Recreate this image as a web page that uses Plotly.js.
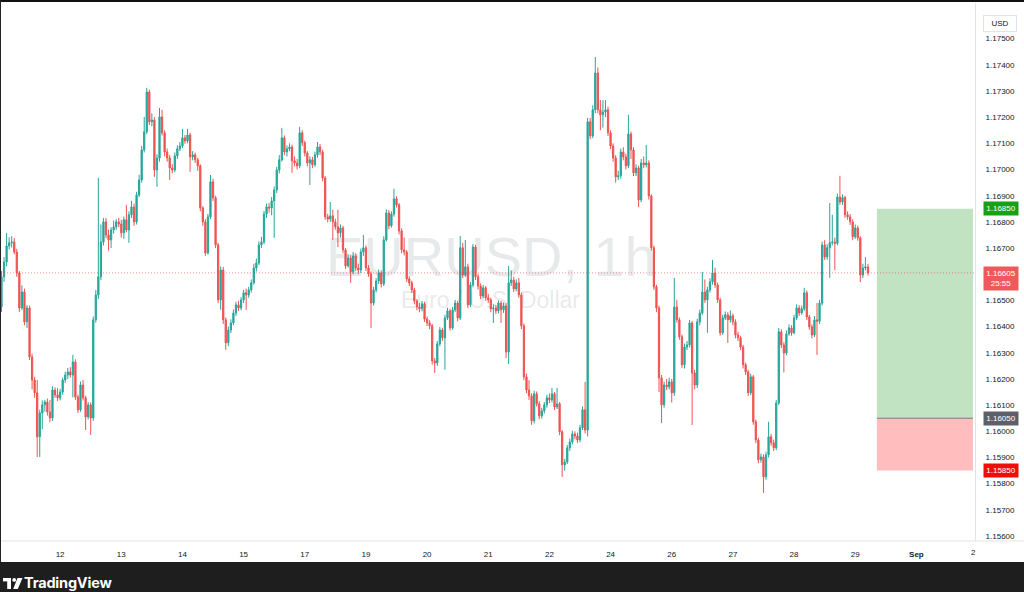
<!DOCTYPE html>
<html>
<head>
<meta charset="utf-8">
<script src="https://cdn.plot.ly/plotly-3.0.1.min.js"></script>
<style>
html,body{margin:0;padding:0;width:1024px;height:592px;overflow:hidden;background:#1e1e1e;}
#chart{position:absolute;left:0;top:0;width:1024px;height:562px;background:#fff;}
#topline{position:absolute;left:0;top:0;width:1024px;height:2px;background:#111;}
#leftline{position:absolute;left:0;top:0;width:1px;height:562px;background:#222;}
#footer{position:absolute;left:0;top:562px;width:1024px;height:30px;background:#1e1e1e;}
#brand{position:absolute;left:24px;top:12px;color:#fff;font-family:Inter,"Liberation Sans",Arial,sans-serif;font-weight:700;font-size:14.5px;letter-spacing:-0.2px;}
#logo{position:absolute;left:3px;top:16px;}
</style>
</head>
<body>
<div id="chart"></div>
<div id="topline"></div>
<div id="leftline"></div>
<div id="footer">
  <svg id="logo" width="20" height="12" viewBox="0 0 20 12">
    <rect x="0" y="0" width="8" height="3.4" fill="#fff"/>
    <rect x="4.2" y="3" width="3.8" height="8" fill="#fff"/>
    <circle cx="11.2" cy="1.9" r="1.9" fill="#fff"/>
    <polygon points="14.5,0 19.5,0 14.8,11 10.2,11" fill="#fff"/>
  </svg>
  <span id="brand">TradingView</span>
</div>
<script>
// ---- EURUSD 1h candles ----
const open = [
1.16475,1.16590,1.16647,1.16708,1.16720,1.16723,1.16685,1.16605,1.16471,1.16532,
1.16418,1.16471,1.16284,1.16196,1.16147,1.15979,1.16070,1.16101,1.16112,1.16074,
1.16051,1.16158,1.16139,1.16128,1.16150,1.16196,1.16215,1.16227,1.16215,1.16265,
1.16131,1.16082,1.16177,1.16128,1.16055,1.16101,1.16051,1.16426,1.16521,1.16590,
1.16723,1.16800,1.16750,1.16731,1.16769,1.16781,1.16800,1.16792,1.16758,1.16808,
1.16769,1.16827,1.16857,1.16800,1.16903,1.16960,1.17075,1.17144,1.17296,1.17182,
1.17189,1.16998,1.17044,1.17201,1.17140,1.17067,1.17044,1.17006,1.16998,1.17052,
1.17079,1.17090,1.17121,1.17109,1.17132,1.17048,1.17056,1.17037,1.17014,1.16853,
1.16800,1.16681,1.16819,1.16953,1.16892,1.16712,1.16502,1.16616,1.16426,1.16338,
1.16387,1.16414,1.16452,1.16483,1.16471,1.16502,1.16529,1.16521,1.16540,1.16567,
1.16624,1.16643,1.16712,1.16723,1.16830,1.16857,1.16853,1.16880,1.16922,1.16998,
1.17037,1.17121,1.17067,1.17079,1.17086,1.17033,1.17025,1.17014,1.17140,1.17102,
1.17063,1.17025,1.17037,1.17018,1.17056,1.17086,1.17067,1.16968,1.16819,1.16811,
1.16823,1.16800,1.16781,1.16758,1.16777,1.16693,1.16632,1.16662,1.16609,1.16670,
1.16624,1.16616,1.16685,1.16701,1.16624,1.16601,1.16490,1.16540,1.16574,1.16605,
1.16563,1.16731,1.16834,1.16785,1.16830,1.16888,1.16865,1.16765,1.16693,1.16685,
1.16582,1.16567,1.16540,1.16498,1.16475,1.16468,1.16487,1.16429,1.16414,1.16403,
1.16269,1.16261,1.16334,1.16387,1.16357,1.16433,1.16460,1.16395,1.16464,1.16490,
1.16433,1.16701,1.16597,1.16628,1.16483,1.16559,1.16704,1.16590,1.16555,1.16517,
1.16548,1.16510,1.16502,1.16468,1.16471,1.16460,1.16490,1.16464,1.16479,1.16303,
1.16567,1.16578,1.16544,1.16567,1.16521,1.16403,1.16208,1.16158,1.16135,1.16040,
1.16143,1.16105,1.16059,1.16078,1.16101,1.16128,1.16120,1.16143,1.16093,1.16105,
1.15998,1.15872,1.15883,1.15937,1.15959,1.15990,1.15982,1.15967,1.16013,1.16082,
1.16005,1.17182,1.17128,1.17228,1.17369,1.17228,1.17209,1.17220,1.17228,1.17140,
1.17090,1.17044,1.16972,1.16976,1.17067,1.17048,1.17014,1.17136,1.17075,1.16987,
1.17006,1.16884,1.17025,1.17018,1.17025,1.16899,1.16701,1.16552,1.16471,1.16204,
1.16101,1.16177,1.16170,1.16189,1.16147,1.16475,1.16426,1.16361,1.16254,1.16322,
1.16330,1.16414,1.16223,1.16177,1.16418,1.16452,1.16532,1.16502,1.16540,1.16571,
1.16605,1.16559,1.16502,1.16376,1.16433,1.16445,1.16426,1.16441,1.16418,1.16368,
1.16357,1.16322,1.16254,1.16227,1.16147,1.16208,1.16036,1.15967,1.15891,1.15902,
1.15826,1.15910,1.15979,1.15956,1.15937,1.16108,1.16380,1.16330,1.16299,1.16372,
1.16395,1.16376,1.16433,1.16471,1.16452,1.16468,1.16529,1.16437,1.16399,1.16368,
1.16426,1.16420,1.16490,1.16712,1.16666,1.16701,1.16720,1.16723,1.16718,1.16895,
1.16876,1.16893,1.16827,1.16819,1.16800,1.16743,1.16777,1.16739,1.16597,1.16624,
1.16628
];
const high = [
1.16612,1.16665,1.16758,1.16741,1.16745,1.16738,1.16697,1.16612,1.16558,1.16545,
1.16482,1.16480,1.16296,1.16208,1.16196,1.16082,1.16118,1.16120,1.16125,1.16120,
1.16172,1.16168,1.16165,1.16162,1.16205,1.16228,1.16242,1.16245,1.16292,1.16275,
1.16140,1.16190,1.16196,1.16136,1.16112,1.16110,1.16438,1.16540,1.16968,1.16790,
1.16815,1.16815,1.16770,1.16780,1.16805,1.16810,1.16815,1.16808,1.16820,1.16865,
1.16840,1.16880,1.16870,1.16915,1.16980,1.17090,1.17201,1.17312,1.17305,1.17215,
1.17200,1.17058,1.17235,1.17228,1.17150,1.17080,1.17055,1.17020,1.17065,1.17092,
1.17105,1.17155,1.17132,1.17155,1.17140,1.17070,1.17065,1.17045,1.17020,1.16860,
1.16810,1.16830,1.16979,1.16965,1.16900,1.16720,1.16630,1.16628,1.16435,1.16400,
1.16428,1.16465,1.16495,1.16498,1.16512,1.16540,1.16545,1.16552,1.16580,1.16640,
1.16660,1.16725,1.16743,1.16842,1.16870,1.16872,1.16895,1.16935,1.17010,1.17055,
1.17159,1.17130,1.17092,1.17100,1.17095,1.17050,1.17040,1.17163,1.17150,1.17110,
1.17070,1.17050,1.17048,1.17068,1.17105,1.17098,1.17075,1.16975,1.16830,1.16876,
1.16846,1.16812,1.16846,1.16790,1.16785,1.16700,1.16675,1.16672,1.16685,1.16680,
1.16640,1.16698,1.16750,1.16710,1.16635,1.16610,1.16552,1.16585,1.16618,1.16615,
1.16745,1.16848,1.16845,1.16840,1.16926,1.16898,1.16872,1.16775,1.16740,1.16692,
1.16592,1.16575,1.16548,1.16505,1.16490,1.16498,1.16495,1.16438,1.16425,1.16410,
1.16280,1.16345,1.16398,1.16395,1.16445,1.16472,1.16468,1.16475,1.16502,1.16498,
1.16746,1.16720,1.16731,1.16640,1.16570,1.16715,1.16712,1.16600,1.16565,1.16560,
1.16555,1.16525,1.16510,1.16485,1.16482,1.16500,1.16498,1.16492,1.16490,1.16632,
1.16615,1.16590,1.16580,1.16585,1.16530,1.16412,1.16220,1.16195,1.16145,1.16155,
1.16152,1.16115,1.16090,1.16112,1.16140,1.16145,1.16166,1.16150,1.16166,1.16112,
1.16005,1.15895,1.15948,1.15972,1.16002,1.16000,1.15995,1.16025,1.16095,1.16189,
1.17197,1.17197,1.17245,1.17430,1.17390,1.17265,1.17265,1.17265,1.17240,1.17150,
1.17100,1.17055,1.16995,1.17080,1.17085,1.17060,1.17209,1.17145,1.17085,1.17020,
1.17015,1.17040,1.17050,1.17094,1.17035,1.16905,1.16710,1.16560,1.16480,1.16215,
1.16190,1.16200,1.16205,1.16200,1.16586,1.16502,1.16435,1.16370,1.16335,1.16345,
1.16425,1.16422,1.16235,1.16430,1.16465,1.16609,1.16580,1.16552,1.16585,1.16655,
1.16625,1.16568,1.16510,1.16445,1.16458,1.16455,1.16462,1.16450,1.16428,1.16380,
1.16365,1.16330,1.16262,1.16235,1.16220,1.16215,1.16045,1.15975,1.15915,1.15912,
1.15922,1.16036,1.15990,1.15968,1.16120,1.16395,1.16390,1.16340,1.16385,1.16408,
1.16405,1.16445,1.16485,1.16482,1.16480,1.16548,1.16538,1.16445,1.16408,1.16440,
1.16490,1.16502,1.16725,1.16730,1.16715,1.16872,1.16827,1.16740,1.16908,1.16976,
1.16905,1.16900,1.16840,1.16830,1.16810,1.16790,1.16785,1.16745,1.16640,1.16665,
1.16640
];
const low = [
1.16456,1.16571,1.16630,1.16695,1.16702,1.16676,1.16590,1.16456,1.16463,1.16405,
1.16395,1.16272,1.16160,1.16128,1.15902,1.15902,1.16008,1.16075,1.16060,1.16035,
1.16040,1.16128,1.16115,1.16118,1.16140,1.16185,1.16200,1.16205,1.16130,1.16120,
1.16070,1.16075,1.16118,1.16005,1.16045,1.15986,1.16040,1.16415,1.16505,1.16578,
1.16710,1.16738,1.16690,1.16700,1.16755,1.16770,1.16780,1.16740,1.16735,1.16760,
1.16720,1.16815,1.16785,1.16790,1.16895,1.16950,1.17065,1.17135,1.17170,1.17165,
1.16972,1.16934,1.17030,1.17130,1.17050,1.17030,1.16960,1.16985,1.16990,1.17040,
1.17070,1.17082,1.17098,1.17100,1.16991,1.17035,1.17025,1.16995,1.16840,1.16785,
1.16670,1.16675,1.16810,1.16880,1.16700,1.16490,1.16464,1.16410,1.16311,1.16325,
1.16375,1.16405,1.16440,1.16460,1.16462,1.16490,1.16464,1.16510,1.16530,1.16560,
1.16610,1.16635,1.16700,1.16715,1.16815,1.16835,1.16825,1.16739,1.16910,1.16985,
1.17030,1.17055,1.17050,1.17070,1.16987,1.17012,1.17000,1.17005,1.17090,1.17050,
1.17012,1.16941,1.17005,1.17010,1.17045,1.17055,1.16955,1.16808,1.16798,1.16800,
1.16731,1.16770,1.16704,1.16740,1.16680,1.16620,1.16625,1.16567,1.16600,1.16612,
1.16600,1.16605,1.16670,1.16612,1.16590,1.16395,1.16480,1.16530,1.16562,1.16550,
1.16555,1.16725,1.16772,1.16778,1.16820,1.16855,1.16752,1.16680,1.16672,1.16570,
1.16555,1.16528,1.16485,1.16462,1.16455,1.16458,1.16418,1.16402,1.16390,1.16255,
1.16223,1.16250,1.16325,1.16345,1.16235,1.16425,1.16385,1.16388,1.16455,1.16420,
1.16425,1.16585,1.16590,1.16470,1.16475,1.16550,1.16578,1.16542,1.16505,1.16508,
1.16498,1.16490,1.16455,1.16414,1.16448,1.16450,1.16414,1.16452,1.16280,1.16257,
1.16555,1.16532,1.16535,1.16510,1.16390,1.16195,1.16145,1.16120,1.16025,1.16030,
1.16095,1.16045,1.16048,1.16068,1.16090,1.16108,1.16110,1.16082,1.16085,1.15985,
1.15826,1.15850,1.15875,1.15925,1.15950,1.15970,1.15955,1.15958,1.16005,1.15992,
1.15980,1.17115,1.17120,1.17215,1.17215,1.17150,1.17160,1.17200,1.17128,1.17078,
1.17030,1.16950,1.16960,1.16965,1.17035,1.17000,1.17005,1.17040,1.16975,1.16975,
1.16857,1.16875,1.17005,1.17008,1.16885,1.16690,1.16540,1.16455,1.16150,1.16032,
1.16090,1.16158,1.16160,1.16110,1.16135,1.16415,1.16350,1.16242,1.16240,1.16310,
1.16320,1.16024,1.16160,1.16165,1.16405,1.16445,1.16490,1.16376,1.16530,1.16560,
1.16548,1.16490,1.16365,1.16368,1.16425,1.16338,1.16415,1.16405,1.16355,1.16345,
1.16310,1.16240,1.16215,1.16135,1.16138,1.16025,1.15955,1.15878,1.15880,1.15765,
1.15815,1.15900,1.15945,1.15925,1.15928,1.16100,1.16318,1.16225,1.16290,1.16365,
1.16365,1.16370,1.16425,1.16440,1.16445,1.16460,1.16425,1.16388,1.16355,1.16360,
1.16292,1.16410,1.16480,1.16655,1.16655,1.16586,1.16710,1.16616,1.16710,1.16865,
1.16865,1.16815,1.16808,1.16788,1.16730,1.16735,1.16728,1.16570,1.16585,1.16615,
1.16595
];
const close = [
1.16590,1.16647,1.16708,1.16720,1.16723,1.16685,1.16605,1.16471,1.16532,1.16418,
1.16471,1.16284,1.16196,1.16147,1.15979,1.16070,1.16101,1.16112,1.16074,1.16051,
1.16158,1.16139,1.16128,1.16150,1.16196,1.16215,1.16227,1.16215,1.16265,1.16131,
1.16082,1.16177,1.16128,1.16055,1.16101,1.16051,1.16426,1.16521,1.16590,1.16723,
1.16800,1.16750,1.16731,1.16769,1.16781,1.16800,1.16792,1.16758,1.16808,1.16769,
1.16827,1.16857,1.16800,1.16903,1.16960,1.17075,1.17144,1.17296,1.17182,1.17189,
1.16998,1.17044,1.17201,1.17140,1.17067,1.17044,1.17006,1.16998,1.17052,1.17079,
1.17090,1.17121,1.17109,1.17132,1.17048,1.17056,1.17037,1.17014,1.16853,1.16800,
1.16681,1.16819,1.16953,1.16892,1.16712,1.16502,1.16616,1.16426,1.16338,1.16387,
1.16414,1.16452,1.16483,1.16471,1.16502,1.16529,1.16521,1.16540,1.16567,1.16624,
1.16643,1.16712,1.16723,1.16830,1.16857,1.16853,1.16880,1.16922,1.16998,1.17037,
1.17121,1.17067,1.17079,1.17086,1.17033,1.17025,1.17014,1.17140,1.17102,1.17063,
1.17025,1.17037,1.17018,1.17056,1.17086,1.17067,1.16968,1.16819,1.16811,1.16823,
1.16800,1.16781,1.16758,1.16777,1.16693,1.16632,1.16662,1.16609,1.16670,1.16624,
1.16616,1.16685,1.16701,1.16624,1.16601,1.16490,1.16540,1.16574,1.16605,1.16563,
1.16731,1.16834,1.16785,1.16830,1.16888,1.16865,1.16765,1.16693,1.16685,1.16582,
1.16567,1.16540,1.16498,1.16475,1.16468,1.16487,1.16429,1.16414,1.16403,1.16269,
1.16261,1.16334,1.16387,1.16357,1.16433,1.16460,1.16395,1.16464,1.16490,1.16433,
1.16701,1.16597,1.16628,1.16483,1.16559,1.16704,1.16590,1.16555,1.16517,1.16548,
1.16510,1.16502,1.16468,1.16471,1.16460,1.16490,1.16464,1.16479,1.16303,1.16567,
1.16578,1.16544,1.16567,1.16521,1.16403,1.16208,1.16158,1.16135,1.16040,1.16143,
1.16105,1.16059,1.16078,1.16101,1.16128,1.16120,1.16143,1.16093,1.16105,1.15998,
1.15872,1.15883,1.15937,1.15959,1.15990,1.15982,1.15967,1.16013,1.16082,1.16005,
1.17182,1.17128,1.17228,1.17369,1.17228,1.17209,1.17220,1.17228,1.17140,1.17090,
1.17044,1.16972,1.16976,1.17067,1.17048,1.17014,1.17136,1.17075,1.16987,1.17006,
1.16884,1.17025,1.17018,1.17025,1.16899,1.16701,1.16552,1.16471,1.16204,1.16101,
1.16177,1.16170,1.16189,1.16147,1.16475,1.16426,1.16361,1.16254,1.16322,1.16330,
1.16414,1.16223,1.16177,1.16418,1.16452,1.16532,1.16502,1.16540,1.16571,1.16605,
1.16559,1.16502,1.16376,1.16433,1.16445,1.16426,1.16441,1.16418,1.16368,1.16357,
1.16322,1.16254,1.16227,1.16147,1.16208,1.16036,1.15967,1.15891,1.15902,1.15826,
1.15910,1.15979,1.15956,1.15937,1.16108,1.16380,1.16330,1.16299,1.16372,1.16395,
1.16376,1.16433,1.16471,1.16452,1.16468,1.16529,1.16437,1.16399,1.16368,1.16426,
1.16420,1.16490,1.16712,1.16666,1.16701,1.16720,1.16723,1.16718,1.16895,1.16876,
1.16893,1.16827,1.16819,1.16800,1.16743,1.16777,1.16739,1.16597,1.16624,1.16628,
1.16605
];

// ---- axis labels ----
const dayTickIndex  = [23, 47, 71, 95, 119, 143, 167, 191, 215, 239, 263, 287, 311, 335, 359];
const dayTickLabels = ['12','13','14','15','17','19','20','21','22','24','26','27','28','29','Sep'];
const priceTicks = [1.156,1.157,1.158,1.159,1.160,1.161,1.162,1.163,1.164,1.165,
                    1.166,1.167,1.168,1.169,1.170,1.171,1.172,1.173,1.174,1.175];

// ---- long position tool & labels ----
const takeProfit = 1.16850;
const entryPrice = 1.16050;
const stopLoss   = 1.15850;
const positionStart = 343.5;   // candle index where the tool starts
const positionEnd   = 381.2;
const symbolTitle = 'EURUSD, 1h';
const symbolName  = 'Euro / U.S. Dollar';
const currencyLabel = 'USD';
const countdown = '25:55';

const idx = close.map((_, i) => i);
const lastPrice = close[close.length - 1];
const UP = '#26a69a', DOWN = '#ef5350';

const trace = {
  type: 'candlestick',
  x: idx, open: open, high: high, low: low, close: close,
  increasing: {line: {color: UP, width: 1}, fillcolor: UP},
  decreasing: {line: {color: DOWN, width: 1}, fillcolor: DOWN},
  whiskerwidth: 0,
  hoverinfo: 'skip',
  showlegend: false
};

const FONT = '"Liberation Sans", Arial, sans-serif';

function priceBox(y, text, bg, yshift, yanchor) {
  return {xref: 'paper', yref: 'y', x: 1, y: y, xanchor: 'left', yanchor: yanchor || 'middle',
          xshift: 8, yshift: yshift || 0, text: text, showarrow: false,
          bgcolor: bg, borderpad: 2, width: 30,
          font: {family: FONT, size: 8, color: '#ffffff'}};
}

const layout = {
  width: 1024, height: 562,
  margin: {l: 1, r: 49, t: 3, b: 21},
  paper_bgcolor: '#ffffff', plot_bgcolor: '#ffffff',
  showlegend: false,
  font: {family: FONT, size: 8, color: '#131722'},
  xaxis: {
    range: [-0.2, 382], tickvals: dayTickIndex,
    ticktext: dayTickLabels.map(t => t === 'Sep' ? '<b>Sep</b>' : t),
    ticks: 'outside', ticklen: 5, tickcolor: 'rgba(0,0,0,0)',
    showgrid: false, zeroline: false, showline: false,
    rangeslider: {visible: false}, tickfont: {size: 8, color: '#131722'}, fixedrange: true
  },
  yaxis: {
    side: 'right', range: [1.15581, 1.17636],
    tickvals: priceTicks, ticktext: priceTicks.map(v => v.toFixed(5)),
    ticks: 'outside', ticklen: 8, tickcolor: 'rgba(0,0,0,0)',
    showgrid: false, zeroline: false, showline: true, linecolor: '#e0e3eb', linewidth: 1,
    tickfont: {size: 8, color: '#131722'}, fixedrange: true
  },
  shapes: [
    {type: 'rect', xref: 'x', yref: 'y', x0: positionStart, x1: positionEnd, y0: entryPrice, y1: takeProfit,
     fillcolor: 'rgba(76,175,80,0.35)', line: {width: 0}, layer: 'below'},
    {type: 'rect', xref: 'x', yref: 'y', x0: positionStart, x1: positionEnd, y0: stopLoss, y1: entryPrice,
     fillcolor: 'rgba(255,82,82,0.38)', line: {width: 0}, layer: 'below'},
    {type: 'line', xref: 'x', yref: 'y', x0: positionStart, x1: positionEnd, y0: entryPrice, y1: entryPrice,
     line: {color: '#787b86', width: 1}},
    {type: 'line', xref: 'paper', yref: 'y', x0: 0, x1: 1, y0: lastPrice, y1: lastPrice,
     line: {color: 'rgba(242,54,69,0.55)', width: 1, dash: '1px,2px'}},
    {type: 'line', xref: 'paper', yref: 'paper', x0: 0, x1: 1.06, y0: 0, y1: 0,
     line: {color: '#e0e3eb', width: 1}}
  ],
  annotations: [
    {xref: 'paper', yref: 'paper', x: 0.503, y: 0.528, text: symbolTitle, showarrow: false,
     font: {family: FONT, size: 56, color: 'rgba(120,123,134,0.17)'}},
    {xref: 'paper', yref: 'paper', x: 0.503, y: 0.448, text: symbolName, showarrow: false,
     font: {family: FONT, size: 23, color: 'rgba(120,123,134,0.17)'}},
    priceBox(takeProfit, takeProfit.toFixed(5), '#1a9f1a'),
    priceBox(entryPrice, entryPrice.toFixed(5), '#5d606b'),
    priceBox(stopLoss, stopLoss.toFixed(5), '#f20d0d'),
    priceBox(lastPrice, lastPrice.toFixed(5) + '<br>' + countdown, '#f0595b', 7, 'top'),
    {xref: 'paper', yref: 'paper', x: 1, y: 0.978, xanchor: 'left', xshift: 8, text: currencyLabel,
     showarrow: false, bgcolor: '#ffffff', bordercolor: '#e0e3eb', borderwidth: 1, borderpad: 3, width: 26,
     font: {family: FONT, size: 8, color: '#131722'}},
    {xref: 'paper', yref: 'paper', x: 1.0035, y: 0, yanchor: 'top', yshift: -5, text: '2', showarrow: false,
     font: {family: FONT, size: 8, color: '#131722'}}
  ]
};

Plotly.newPlot('chart', [trace], layout, {staticPlot: true, displayModeBar: false});
</script>
</body>
</html>
